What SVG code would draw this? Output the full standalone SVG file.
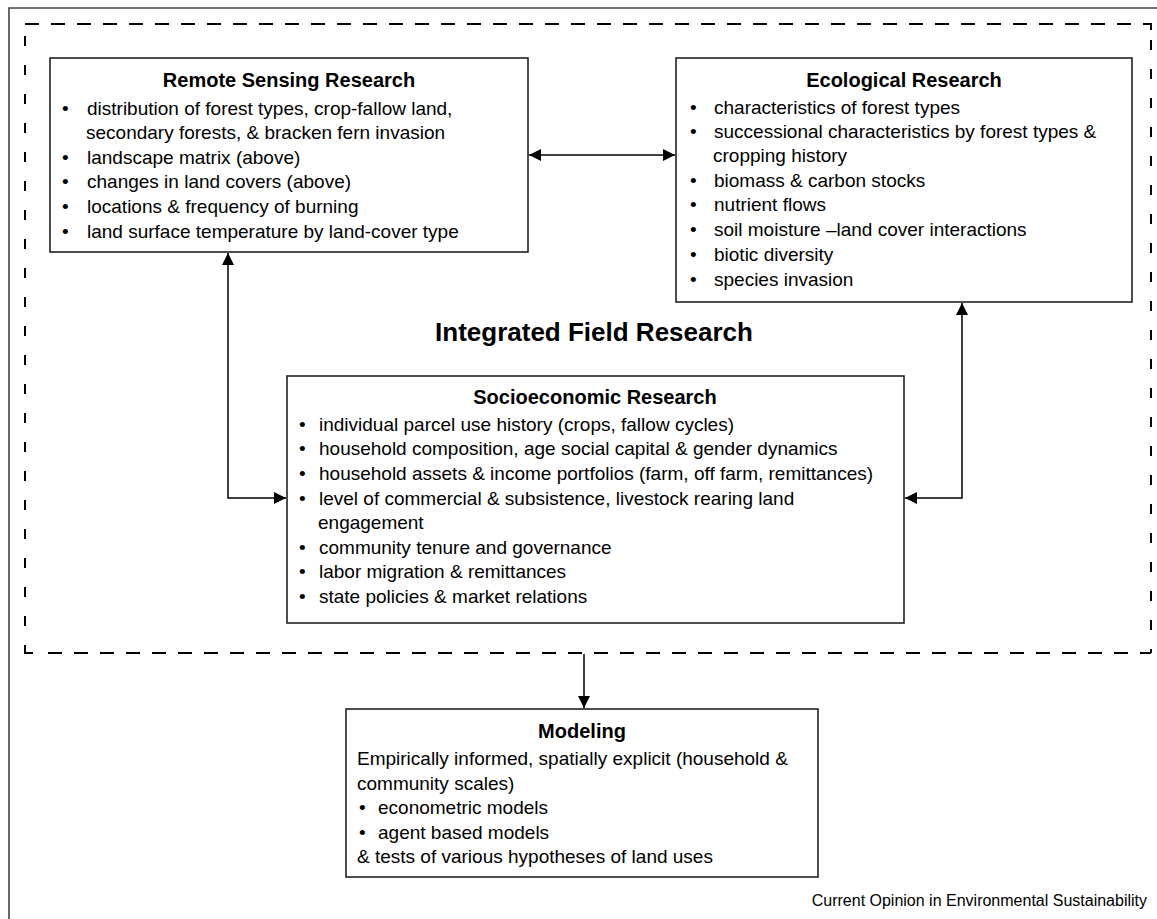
<svg xmlns="http://www.w3.org/2000/svg" width="1157" height="919" viewBox="0 0 1157 919">
<style>
text{font-family:"Liberation Sans",Arial,Helvetica,sans-serif;fill:#000}
.t{font-size:20px;font-weight:bold;text-anchor:middle}
.b{font-size:19px}
.box{fill:#fff;stroke:#222;stroke-width:1.6}
.con{fill:none;stroke:#000;stroke-width:1.5}
</style>
<defs>
<marker id="ah" markerUnits="userSpaceOnUse" markerWidth="12" markerHeight="12" refX="11" refY="5.5" orient="auto-start-reverse" viewBox="0 0 11 11">
<path d="M0,0 L11,5.5 L0,11 z" fill="#000"/>
</marker>
</defs>
<rect width="1157" height="919" fill="#fff"/>
<g id="frame">
<path d="M9,919 V8 H1157" fill="none" stroke="#444" stroke-width="1.6"/>
</g>
<g id="integrated-field">
<path d="M25,24 H1138 M48,653 H1151" fill="none" stroke="#000" stroke-width="2" stroke-dasharray="14 12"/>
<path d="M25,36 V640 M1151,40 V653" fill="none" stroke="#000" stroke-width="2" stroke-dasharray="10 19"/>
<path d="M1143,24 H1151 V30 M25,645 V653 H33" fill="none" stroke="#000" stroke-width="2"/>
<text x="594" y="341" style="font-size:26px;font-weight:bold;text-anchor:middle">Integrated Field Research</text>
</g>
<g id="connectors">
<line class="con" x1="529" y1="155" x2="675" y2="155" marker-start="url(#ah)" marker-end="url(#ah)"/>
<path class="con" d="M228,253 V498 H286" marker-start="url(#ah)" marker-end="url(#ah)"/>
<path class="con" d="M962,303 V498 H905" marker-start="url(#ah)" marker-end="url(#ah)"/>
<line class="con" x1="584" y1="654" x2="584" y2="708" marker-end="url(#ah)"/>
</g>
<g id="remote-sensing">
<rect class="box" x="50" y="58" width="478" height="194"/>
<text class="t" x="289" y="87">Remote Sensing Research</text>
<text class="b" x="62" y="115">•</text><text class="b" x="87" y="115">distribution of forest types, crop-fallow land,</text>
<text class="b" x="86" y="139">secondary forests, &amp; bracken fern invasion</text>
<text class="b" x="62" y="164">•</text><text class="b" x="87" y="164">landscape matrix (above)</text>
<text class="b" x="62" y="188">•</text><text class="b" x="87" y="188">changes in land covers (above)</text>
<text class="b" x="62" y="213">•</text><text class="b" x="87" y="213">locations &amp; frequency of burning</text>
<text class="b" x="62" y="238">•</text><text class="b" x="87" y="238">land surface temperature by land-cover type</text>
</g>
<g id="ecological">
<rect class="box" x="676" y="58" width="456" height="244"/>
<text class="t" x="904" y="87">Ecological Research</text>
<text class="b" x="690" y="114">•</text><text class="b" x="714" y="114">characteristics of forest types</text>
<text class="b" x="690" y="138">•</text><text class="b" x="714" y="138">successional characteristics by forest types &amp;</text>
<text class="b" x="713" y="162">cropping history</text>
<text class="b" x="690" y="187">•</text><text class="b" x="714" y="187">biomass &amp; carbon stocks</text>
<text class="b" x="690" y="211">•</text><text class="b" x="714" y="211">nutrient flows</text>
<text class="b" x="690" y="236">•</text><text class="b" x="714" y="236">soil moisture –land cover interactions</text>
<text class="b" x="690" y="261">•</text><text class="b" x="714" y="261">biotic diversity</text>
<text class="b" x="690" y="286">•</text><text class="b" x="714" y="286">species invasion</text>
</g>
<g id="socioeconomic">
<rect class="box" x="287" y="376" width="617" height="247"/>
<text class="t" x="595" y="404">Socioeconomic Research</text>
<text class="b" x="299" y="431">•</text><text class="b" x="319" y="431">individual parcel use history (crops, fallow cycles)</text>
<text class="b" x="299" y="455">•</text><text class="b" x="319" y="455">household composition, age social capital &amp; gender dynamics</text>
<text class="b" x="299" y="480">•</text><text class="b" x="319" y="480">household assets &amp; income portfolios (farm, off farm, remittances)</text>
<text class="b" x="299" y="505">•</text><text class="b" x="319" y="505">level of commercial &amp; subsistence, livestock rearing land</text>
<text class="b" x="318" y="529">engagement</text>
<text class="b" x="299" y="554">•</text><text class="b" x="319" y="554">community tenure and governance</text>
<text class="b" x="299" y="578">•</text><text class="b" x="319" y="578">labor migration &amp; remittances</text>
<text class="b" x="299" y="603">•</text><text class="b" x="319" y="603">state policies &amp; market relations</text>
</g>
<g id="modeling">
<rect class="box" x="346" y="709" width="472" height="168"/>
<text class="t" x="582" y="738">Modeling</text>
<text class="b" x="357" y="765">Empirically informed, spatially explicit (household &amp;</text>
<text class="b" x="357" y="790">community scales)</text>
<text class="b" x="359" y="814">•</text><text class="b" x="378" y="814">econometric models</text>
<text class="b" x="359" y="839">•</text><text class="b" x="378" y="839">agent based models</text>
<text class="b" x="357" y="863">&amp; tests of various hypotheses of land uses</text>
</g>
<g id="footer">
<text x="1147" y="906" style="font-size:16px;text-anchor:end">Current Opinion in Environmental Sustainability</text>
</g>
</svg>
